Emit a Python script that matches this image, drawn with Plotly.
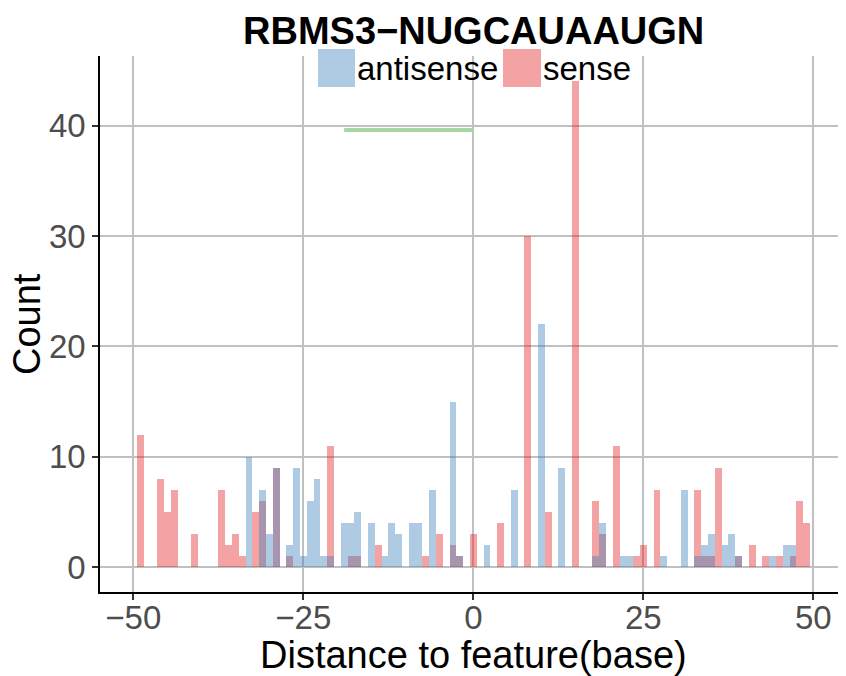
import plotly.graph_objects as go

# ---- data ----
sense_pos = [-49, -46, -45, -44, -41, -37, -36, -35, -34, -32, -31, -29, -27, -21, -18, -17,
             -14, -7, -5, -3, -2, 0, 4, 8, 11, 15, 18, 19, 21, 24, 25, 27, 33, 34, 35, 36,
             39, 41, 43, 45, 47, 48, 49]
sense_cnt = [12, 8, 5, 7, 3, 7, 2, 3, 1, 5, 6, 9, 1, 11, 1, 1,
             2, 1, 3, 2, 1, 3, 4, 30, 5, 44, 6, 3, 11, 1, 2, 7, 7, 1, 1, 9,
             1, 2, 1, 1, 1, 6, 4]

antisense_pos = [-33, -31, -30, -29, -27, -26, -25, -24, -23, -22, -21, -19, -18, -17, -15,
                 -13, -12, -11, -9, -8, -6, -3, -2, 2, 6, 10, 13, 18, 19, 22, 23, 28, 31,
                 33, 34, 35, 37, 38, 39, 44, 46, 47]
antisense_cnt = [10, 7, 3, 9, 2, 9, 1, 6, 8, 1, 1, 4, 4, 5, 4,
                 1, 4, 3, 4, 4, 7, 15, 1, 2, 7, 22, 9, 1, 4, 1, 1, 1, 7,
                 1, 2, 3, 2, 3, 1, 1, 2, 2]

motif_x = [-19, 0]
motif_y = [39.6, 39.6]

title_text = "RBMS3\u2212NUGCAUAAUGN"
x_title = "Distance to feature(base)"
y_title = "Count"
legend_labels = ["antisense", "sense"]
x_ticks = [-50, -25, 0, 25, 50]
y_ticks = [0, 10, 20, 30, 40]

# ---- styling ----
RED = "rgba(228,26,28,0.4)"
BLUE = "rgba(55,126,184,0.4)"
GREEN = "#A6D7A4"
FONT = "Liberation Sans, Arial, sans-serif"

OFF = 8  # page body margin
W, H = 846 - OFF, 676 - OFF
# plot area in window pixels
L, R, T, B = 100, 846, 56, 592


def px(xp):
    return (xp - L) / (R - L)


def py(yp):
    return (B - yp) / (B - T)


fig = go.Figure()
fig.add_trace(go.Bar(x=sense_pos, y=sense_cnt, width=1, marker=dict(color=RED, line=dict(width=0)),
                     name=legend_labels[1], showlegend=False))
fig.add_trace(go.Bar(x=antisense_pos, y=antisense_cnt, width=1, marker=dict(color=BLUE, line=dict(width=0)),
                     name=legend_labels[0], showlegend=False))
fig.add_trace(go.Scatter(x=motif_x, y=motif_y, mode="lines", line=dict(color=GREEN, width=4),
                         showlegend=False, hoverinfo="skip"))

# manual legend
shapes = [
    dict(type="rect", xref="paper", yref="paper", x0=px(318), x1=px(355), y0=py(87), y1=py(49),
         fillcolor="#AFCBE3", line=dict(width=0)),
    dict(type="rect", xref="paper", yref="paper", x0=px(503), x1=px(541), y0=py(87), y1=py(49),
         fillcolor="#F4A3A4", line=dict(width=0)),
]
annotations = [
    dict(text=legend_labels[0], xref="paper", yref="paper", x=px(355), y=py(69), xanchor="left", yanchor="middle",
         showarrow=False, font=dict(family=FONT, size=33, color="black")),
    dict(text=legend_labels[1], xref="paper", yref="paper", x=px(541), y=py(69), xanchor="left", yanchor="middle",
         showarrow=False, font=dict(family=FONT, size=33, color="black")),
    dict(text="<b>" + title_text + "</b>", xref="paper", yref="paper", x=px(473), y=py(31),
         xanchor="center", yanchor="middle", showarrow=False,
         font=dict(family=FONT, size=38, color="black")),
    dict(text=x_title, xref="paper", yref="paper", x=px(473), y=py(655),
         xanchor="center", yanchor="middle", showarrow=False,
         font=dict(family=FONT, size=38, color="black")),
    dict(text=y_title, xref="paper", yref="paper", x=px(27), y=py(324), textangle=-90,
         xanchor="center", yanchor="middle", showarrow=False,
         font=dict(family=FONT, size=38, color="black")),
]

fig.update_layout(
    width=W, height=H,
    margin=dict(l=L - OFF, r=W - (R - OFF), t=T - OFF, b=H - (B - OFF), pad=0, autoexpand=False),
    paper_bgcolor="white", plot_bgcolor="white",
    barmode="overlay", bargap=0,
    font=dict(family=FONT, color="#4D4D4D"),
    shapes=shapes, annotations=annotations,
    showlegend=False,
)
fig.update_xaxes(
    range=[-54.9, 54.8], tickvals=x_ticks, ticktext=[("\u2212" + str(-v)) if v < 0 else str(v) for v in x_ticks],
    showgrid=True, gridcolor="#C0C0C0", gridwidth=2, zeroline=False, automargin=False,
    showline=True, linecolor="black", linewidth=1.5,
    ticks="outside", ticklen=6, tickwidth=1.5, tickcolor="#333333", ticklabelstandoff=-10,
    tickfont=dict(family=FONT, size=33, color="#4D4D4D"),
)
fig.update_yaxes(
    range=[-2.24, 46.3], tickvals=y_ticks,
    showgrid=True, gridcolor="#C0C0C0", gridwidth=2, zeroline=False, automargin=False,
    showline=True, linecolor="black", linewidth=1.5,
    ticks="outside", ticklen=6, tickwidth=1.5, tickcolor="#333333",
    tickfont=dict(family=FONT, size=33, color="#4D4D4D"),
)

fig.write_html("out.html")
